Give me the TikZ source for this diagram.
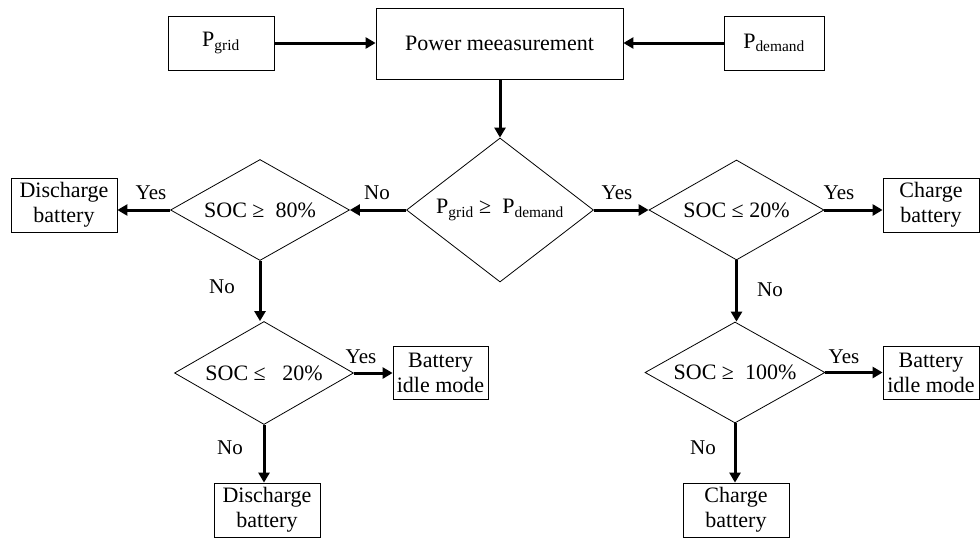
\documentclass[tikz,border=0pt]{standalone}
\usepackage{fontspec}
\setmainfont{Liberation Serif}
\usetikzlibrary{shapes.geometric,arrows.meta}
\begin{document}
\begin{tikzpicture}[x=1pt,y=-1pt,
  font=\fontsize{22}{25}\selectfont,
  box/.style={draw,line width=0.8pt,rectangle,inner sep=0pt,align=center},
  dia/.style={draw,line width=0.8pt,diamond,inner sep=0pt},
  arr/.style={line width=3pt,-{Triangle[length=10pt,width=11pt]}},
  lbl/.style={inner sep=0pt,font=\fontsize{21}{24}\selectfont}]
\useasboundingbox (0,0) rectangle (980,538);
% top row
\node[box,minimum width=106pt,minimum height=54pt] (pg) at (221,43) {P\textsubscript{grid}};
\node[box,minimum width=247pt,minimum height=71pt] (pm) at (499.5,43.5) {Power meeasurement};
\node[box,minimum width=100pt,minimum height=54pt] (pd) at (774,43) {P\textsubscript{demand}};
% diamonds
\node[dia,minimum width=187pt,minimum height=144pt,label={[inner sep=0pt]center:P\textsubscript{grid} ≥\ \ P\textsubscript{demand}}] (c) at (500,210) {};
\node[dia,minimum width=179pt,minimum height=101pt,label={[inner sep=0pt]center:SOC ≥\ \ 80\%}] (l1) at (260,210) {};
\node[dia,minimum width=175pt,minimum height=100pt,label={[inner sep=0pt]center:SOC ≤ 20\%}] (r1) at (736.5,210) {};
\node[dia,minimum width=179pt,minimum height=103pt,label={[inner sep=0pt]center:SOC ≤\ \ \ 20\%}] (l2) at (264,373) {};
\node[dia,minimum width=180pt,minimum height=101pt,label={[inner sep=0pt]center:SOC ≥\ \ 100\%}] (r2) at (735,372.5) {};
% outcome boxes
\node[box,minimum width=106pt,minimum height=54pt] (dt) at (64,205) {Discharge\\battery};
\node[box,minimum width=96pt,minimum height=54pt] (ct) at (931,205) {Charge\\battery};
\node[box,minimum width=95pt,minimum height=53pt] (il) at (440.5,372.5) {Battery\\idle mode};
\node[box,minimum width=96pt,minimum height=53pt] (ir) at (931,372.5) {Battery\\idle mode};
\node[box,minimum width=106pt,minimum height=54pt] (db) at (267,510) {Discharge\\battery};
\node[box,minimum width=106pt,minimum height=54pt] (cb) at (736,510) {Charge\\battery};
% connectors
\draw[arr] (pg.east) -- (pg.east -| pm.west);
\draw[arr] (pd.west) -- (pd.west -| pm.east);
\draw[arr] (pm.south -| c.north) -- (c.north);
\draw[arr] (c.west) -- (l1.east);
\draw[arr] (c.east) -- (r1.west);
\draw[arr] (l1.west) -- (l1.west -| dt.east);
\draw[arr] (r1.east) -- (r1.east -| ct.west);
\draw[arr] (l1.south) -- (l1.south |- l2.north);
\draw[arr] (r1.south) -- (r1.south |- r2.north);
\draw[arr] (l2.east) -- (l2.east -| il.west);
\draw[arr] (r2.east) -- (r2.east -| ir.west);
\draw[arr] (l2.south) -- (l2.south |- db.north);
\draw[arr] (r2.south) -- (r2.south |- cb.north);
% labels
\node[lbl] (y1) at (151,193) {Yes};
\node[lbl] (n1) at (377,193) {No};
\node[lbl] (y2) at (617,193) {Yes};
\node[lbl] (y3) at (839,193) {Yes};
\node[lbl] (n2) at (222,287) {No};
\node[lbl] (n3) at (770,290) {No};
\node[lbl] (y4) at (361,357) {Yes};
\node[lbl] (n4) at (230,448) {No};
\node[lbl] (y5) at (844,357) {Yes};
\node[lbl] (n5) at (703,448) {No};
\end{tikzpicture}
\end{document}
